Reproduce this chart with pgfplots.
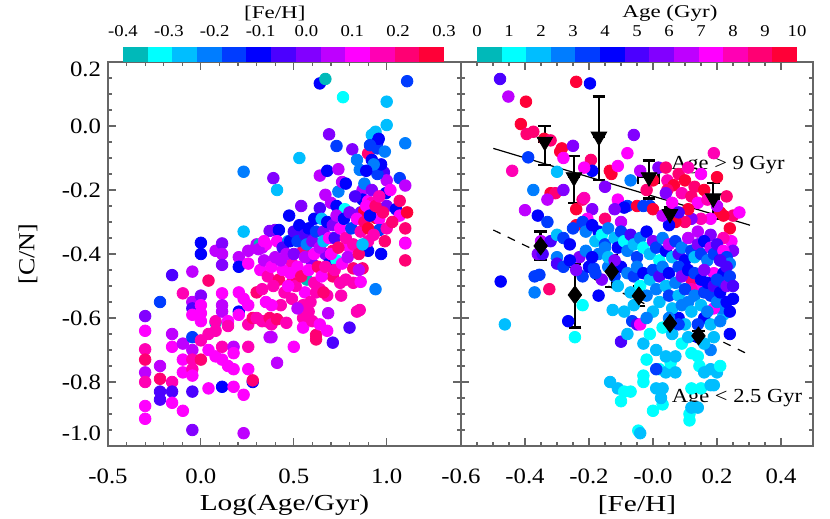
\documentclass[border=0pt]{standalone}
\usepackage{fontspec}
\setmainfont{Liberation Serif}[FakeStretch=1.13]
\newfontfamily\lblfont{Liberation Serif}[FakeStretch=1.28]
\usepackage{pgfplots}
\pgfplotsset{compat=1.18}
\definecolor{cb1}{RGB}{0,185,185}
\definecolor{cb2}{RGB}{0,255,255}
\definecolor{cb3}{RGB}{0,190,255}
\definecolor{cb4}{RGB}{0,125,255}
\definecolor{cb5}{RGB}{0,60,255}
\definecolor{cb6}{RGB}{0,0,255}
\definecolor{cb7}{RGB}{75,0,255}
\definecolor{cb8}{RGB}{130,0,255}
\definecolor{cb9}{RGB}{190,0,255}
\definecolor{cb10}{RGB}{255,0,255}
\definecolor{cb11}{RGB}{255,0,180}
\definecolor{cb12}{RGB}{255,0,115}
\definecolor{cb13}{RGB}{255,0,55}
\pgfplotsset{
  colormap={idl}{color=(cb1) color=(cb2) color=(cb3) color=(cb4) color=(cb5) color=(cb6) color=(cb7) color=(cb8) color=(cb9) color=(cb10) color=(cb11) color=(cb12) color=(cb13)},
  panel/.style={
    scale only axis, height=192bp,
    ymin=-1.0, ymax=0.2,
    ytick={-1.0,-0.8,-0.6,-0.4,-0.2,0.0,0.2}, minor y tick num=3,
    tick align=inside,
    major tick length=3.9bp, minor tick length=2.2bp,
    axis line style={black!60, line width=0.7bp},
    tick style={black!60, line width=0.6bp},
    tick label style={font=\fontsize{11}{12}\selectfont},
    /pgf/number format/assume math mode=true,
    xticklabel style={/pgf/number format/.cd, fixed, fixed zerofill, precision=1},
    yticklabel style={/pgf/number format/.cd, fixed, fixed zerofill, precision=1},
    xticklabel shift=8bp,
    xlabel style={at={(axis description cs:0.5,-0.1536)}, anchor=center, font=\lblfont\fontsize{11.5}{13}\selectfont},
    colormap name=idl, colormap access=piecewise constant,
    clip=false,
  },
  dots/.style={scatter, only marks, mark=*, mark size=2.9bp, scatter src=explicit,
    scatter/use mapped color={draw=mapped color, fill=mapped color}},
  cbar/.style={scale only axis, height=7.5bp, ymin=0, ymax=1, clip=false,
    axis line style={draw=none}, ytick=\empty, xticklabel pos=upper,
    tick style={draw=none}, xticklabel shift=1.5bp,
    /pgf/number format/assume math mode=true,
    xticklabel style={font=\fontsize{8.3}{9}\selectfont}},
}
\begin{document}
\begin{tikzpicture}
\useasboundingbox (0,0) rectangle (415bp,259.5bp);
% ---------------- left panel ----------------
\begin{axis}[panel, at={(54bp,36.5bp)}, anchor=south west, width=176.5bp,
  xmin=-0.5, xmax=1.4, xtick={-0.5,0,0.5,1.0}, minor x tick num=4,
  yticklabel={\ifdim\tick pt>0.15pt\smash{\lower7.4bp\hbox{0.2}}\else\ifdim\tick pt<-0.95pt\smash{\raise2.6bp\hbox{-1.0}}\else\pgfmathprintnumber[fixed,fixed zerofill,precision=1]{\tick}\fi\fi},
  xlabel={Log(Age/Gyr)}, ylabel={[C/N]},
  ylabel style={at={(axis description cs:-0.2266,0.5)}, anchor=center, font=\fontsize{11.5}{13}\selectfont},
  point meta min=-0.4, point meta max=0.3]
\addplot[dots] table[row sep=\\, header=false, x index=0, y index=1, meta index=2] {
-0.30 -0.594 0.00\\ -0.30 -0.640 0.11\\ -0.30 -0.698 0.17\\ -0.30 -0.730 0.22\\ -0.30 -0.770 0.06\\ -0.30 -0.800 0.17\\ -0.30 -0.875 0.11\\ -0.30 -0.915 0.11\\
-0.22 -0.55 -0.16\\ -0.22 -0.75 0.06\\ -0.22 -0.79 0.22\\ -0.22 -0.83 -0.05\\ -0.22 -0.855 -0.05\\
-0.155 -0.466 -0.05\\ -0.155 -0.65 0.06\\ -0.155 -0.69 0.11\\ -0.155 -0.80 0.17\\ -0.155 -0.83 -0.05\\ -0.155 -0.865 0.11\\
-0.097 -0.523 0.17\\ -0.097 -0.68 0.06\\ -0.097 -0.73 0.11\\ -0.097 -0.77 0.11\\ -0.097 -0.89 0.11\\
-0.046 -0.455 0.06\\ -0.046 -0.55 0.06\\ -0.046 -0.57 -0.05\\ -0.046 -0.59 0.11\\ -0.046 -0.66 -0.16\\ -0.046 -0.70 0.06\\ -0.046 -0.73 0.17\\ -0.046 -0.76 0.17\\ -0.046 -0.78 0.11\\ -0.046 -0.83 -0.05\\ -0.046 -0.95 0.00\\
0.0 -0.365 -0.10\\ 0.0 -0.40 -0.10\\ 0.0 -0.53 0.00\\ 0.0 -0.56 0.11\\ 0.0 -0.585 0.11\\ 0.0 -0.61 0.11\\ 0.0 -0.67 0.17\\ 0.0 -0.73 0.22\\
0.041 -0.483 0.22\\ 0.041 -0.65 0.17\\ 0.041 -0.70 0.11\\ 0.041 -0.82 0.11\\
0.079 -0.39 0.06\\ 0.079 -0.615 -0.37\\ 0.079 -0.61 0.17\\ 0.079 -0.64 0.17\\ 0.079 -0.72 0.11\\
0.114 -0.367 0.00\\ 0.114 -0.40 0.06\\ 0.114 -0.434 0.00\\ 0.114 -0.523 0.11\\ 0.114 -0.56 0.06\\ 0.114 -0.58 0.06\\ 0.114 -0.69 0.17\\ 0.114 -0.73 0.11\\ 0.114 -0.815 -0.10\\
0.146 -0.61 0.11\\ 0.146 -0.625 0.17\\ 0.146 -0.75 0.11\\
0.176 -0.69 0.06\\ 0.176 -0.71 0.11\\ 0.176 -0.76 0.11\\ 0.176 -0.815 0.11\\
0.204 -0.41 0.06\\ 0.204 -0.44 -0.10\\ 0.204 -0.52 0.11\\ 0.204 -0.58 -0.10\\ 0.204 -0.59 0.11\\
0.23 -0.143 -0.21\\ 0.23 -0.33 -0.27\\ 0.23 -0.54 0.11\\ 0.23 -0.84 0.11\\ 0.23 -0.96 0.06\\
0.255 -0.39 0.06\\ 0.255 -0.43 0.11\\ 0.255 -0.56 0.11\\ 0.255 -0.62 0.17\\ 0.255 -0.69 0.17\\ 0.255 -0.76 0.11\\
0.279 -0.80 -0.10\\ 0.279 -0.795 0.22\\ 0.279 -0.60 0.22\\
0.30 -0.37 0.06\\ 0.30 -0.52 0.22\\ 0.30 -0.60 0.17\\ 0.317 -0.37 -0.37\\ 0.33 -0.38 0.06\\ 0.33 -0.51 0.17\\ 0.33 -0.61 0.17\\
0.35 -0.37 0.11\\ 0.35 -0.61 0.17\\ 0.37 -0.328 0.00\\ 0.37 -0.60 0.22\\ 0.37 -0.66 0.06\\ 0.39 -0.163 0.00\\ 0.41 -0.20 -0.27\\
0.41 -0.74 0.06\\ 0.38 -0.62 0.17\\ 0.38 -0.66 0.06\\ 0.40 -0.325 0.00\\ 0.42 -0.325 -0.10\\ 0.41 -0.36 0.11\\ 0.41 -0.604 0.22\\
0.43 -0.56 0.17\\ 0.38 -0.56 0.11\\ 0.46 -0.615 0.17\\ 0.47 -0.36 -0.21\\ 0.475 -0.28 -0.10\\ 0.49 -0.49 0.22\\ 0.49 -0.43 0.17\\
0.49 -0.54 0.17\\ 0.50 -0.69 0.11\\ 0.53 -0.10 -0.27\\ 0.54 -0.25 0.00\\ 0.55 -0.39 0.22\\ 0.55 -0.60 0.17\\ 0.55 -0.63 0.11\\
0.55 -0.56 0.17\\ 0.56 -0.52 0.11\\ 0.57 -0.48 -0.37\\ 0.60 -0.43 0.00\\ 0.60 -0.61 0.17\\ 0.61 -0.49 0.17\\ 0.61 -0.29 -0.10\\
0.62 -0.52 0.17\\ 0.62 -0.653 0.22\\ 0.62 -0.667 0.22\\ 0.64 -0.155 0.06\\ 0.64 -0.257 -0.05\\ 0.64 -0.62 0.11\\ 0.64 -0.51 0.17\\
0.65 -0.29 -0.27\\ 0.64 0.133 -0.10\\ 0.67 0.147 -0.37\\ 0.765 0.09 -0.32\\ 0.68 -0.14 -0.10\\ 0.67 -0.215 0.06\\ 0.67 -0.40 0.00\\
0.68 -0.53 0.17\\ 0.68 -0.64 0.11\\ 0.685 -0.585 0.06\\ 0.69 -0.026 0.00\\ 0.69 -0.43 -0.10\\ 0.70 -0.24 0.06\\ 0.71 -0.39 0.22\\
0.71 -0.47 0.22\\ 0.71 -0.677 -0.05\\ 0.73 -0.0625 -0.16\\ 0.73 -0.25 -0.10\\ 0.73 -0.42 -0.32\\ 0.74 -0.135 0.06\\ 0.74 -0.205 -0.21\\
0.75 -0.49 0.17\\ 0.755 -0.53 0.17\\ 0.76 -0.175 0.06\\ 0.775 -0.26 -0.32\\ 0.78 -0.18 -0.10\\ 0.80 -0.37 0.11\\ 0.80 -0.38 0.11\\
0.80 -0.63 -0.05\\ 0.815 -0.073 0.00\\ 0.82 -0.445 0.22\\ 0.82 -0.49 0.17\\ 0.84 -0.106 -0.21\\ 0.84 -0.58 0.17\\ 0.855 -0.137 -0.21\\
0.855 -0.575 0.17\\ 0.86 -0.27 0.00\\ 0.86 -0.487 0.11\\ 0.87 -0.445 0.22\\ 0.87 -0.20 0.06\\ 0.87 -0.23 -0.10\\ 0.88 -0.18 -0.21\\
0.88 -0.265 0.27\\ 0.90 -0.086 0.22\\ 0.90 -0.235 0.11\\ 0.90 -0.39 -0.10\\ 0.90 -0.36 0.17\\ 0.92 -0.028 -0.27\\ 0.92 -0.106 -0.10\\
0.92 -0.24 0.17\\ 0.94 -0.018 -0.27\\ 0.94 -0.287 0.27\\ 0.94 -0.51 -0.21\\ 0.95 -0.05 -0.10\\ 0.95 -0.07 -0.16\\ 0.957 -0.04 -0.10\\
0.96 -0.29 0.11\\ 0.96 -0.325 -0.16\\ 0.985 -0.145 -0.05\\ 0.995 -0.21 -0.10\\ 1.0 0.076 -0.27\\ 1.0 0.003 -0.27\\ 1.0 -0.17 0.06\\
1.0 -0.25 0.00\\ 1.05 -0.26 -0.10\\ 1.07 -0.163 -0.16\\ 1.07 -0.234 0.22\\ 1.07 -0.28 0.11\\ 1.10 -0.054 -0.21\\ 1.10 -0.186 0.06\\
1.10 -0.32 0.22\\ 1.10 -0.365 0.17\\ 1.10 -0.367 0.11\\ 1.10 -0.42 0.22\\ 1.11 0.14 -0.16\\ 1.11 -0.27 0.27\\
0.32 -0.45 0.11\\ 0.34 -0.42 0.06\\ 0.36 -0.47 0.17\\ 0.38 -0.44 0.11\\ 0.40 -0.41 0.06\\ 0.42 -0.48 0.22\\ 0.44 -0.38 -0.05\\
0.44 -0.45 0.11\\ 0.45 -0.52 0.17\\ 0.46 -0.40 0.06\\ 0.48 -0.36 -0.10\\ 0.48 -0.46 0.11\\ 0.50 -0.33 -0.05\\ 0.50 -0.40 0.00\\
0.51 -0.50 0.17\\ 0.52 -0.36 -0.16\\ 0.52 -0.44 0.11\\ 0.53 -0.31 -0.10\\ 0.54 -0.47 0.22\\ 0.56 -0.34 -0.05\\ 0.56 -0.41 0.06\\
0.57 -0.37 -0.21\\ 0.58 -0.32 -0.10\\ 0.58 -0.45 0.11\\ 0.59 -0.55 0.17\\ 0.60 -0.36 0.00\\ 0.61 -0.40 0.11\\ 0.62 -0.33 -0.16\\
0.63 -0.44 0.22\\ 0.64 -0.38 0.06\\ 0.65 -0.47 0.11\\ 0.66 -0.33 0.00\\ 0.66 -0.36 -0.27\\ 0.67 -0.44 0.17\\ 0.68 -0.30 -0.10\\
0.69 -0.35 0.11\\ 0.70 -0.40 0.11\\ 0.71 -0.31 0.00\\ 0.72 -0.45 0.17\\ 0.72 -0.35 -0.05\\ 0.73 -0.28 0.06\\ 0.74 -0.38 0.22\\
0.75 -0.32 0.11\\ 0.76 -0.43 0.11\\ 0.77 -0.29 -0.10\\ 0.78 -0.35 0.17\\ 0.79 -0.41 0.06\\ 0.80 -0.27 0.00\\ 0.81 -0.32 -0.16\\
0.82 -0.37 0.17\\ 0.83 -0.22 -0.05\\ 0.84 -0.29 0.11\\ 0.85 -0.40 0.22\\ 0.86 -0.33 0.17\\ 0.87 -0.37 -0.27\\ 0.88 -0.30 0.22\\
0.89 -0.25 0.11\\ 0.90 -0.32 0.27\\ 0.91 -0.28 -0.10\\ 0.92 -0.20 0.00\\ 0.93 -0.34 0.17\\ 0.94 -0.25 0.22\\ 0.95 -0.15 -0.16\\
0.96 -0.22 0.17\\ 0.97 -0.12 -0.10\\ 0.98 -0.27 0.22\\ 0.99 -0.08 -0.21\\ 1.00 -0.32 0.17\\ 1.02 -0.20 0.11\\ 1.03 -0.30 0.22\\
0.93 -0.12 -0.21\\ 0.91 -0.06 -0.16\\ 0.89 -0.14 -0.10\\ 0.97 -0.40 -0.10\\ 0.99 -0.36 0.22\\ 0.85 -0.45 0.06\\ 0.78 -0.48 0.17\\
0.66 -0.52 0.22\\ 0.58 -0.58 0.17\\ 0.52 -0.57 0.06\\ 0.47 -0.50 0.11\\ 0.43 -0.42 0.06\\ 0.39 -0.50 0.17\\ 0.35 -0.55 0.11\\
0.31 -0.385 0.06\\ 0.34 -0.36 0.11\\
};
\end{axis}
% ---------------- right panel ----------------
\begin{axis}[panel, at={(230.5bp,36.5bp)}, anchor=south west, width=176bp,
  xmin=-0.6, xmax=0.5, xtick={-0.6,-0.4,-0.2,0,0.2,0.4}, minor x tick num=3,
  xticklabels={-0.6,-0.4,-0.2,-0.0,0.2,0.4},
  yticklabel=\empty,
  xlabel={[Fe/H]},
  point meta min=0, point meta max=10]
\addplot[dots] table[row sep=\\, header=false, x index=0, y index=1, meta index=2] {
-0.478 0.147 5.0\\ -0.452 0.092 6.5\\ -0.397 0.076 9.6\\ -0.413 0.006 9.6\\ -0.395 -0.025 8.8\\ -0.374 -0.018 8.8\\ -0.34 -0.04 9.6\\
-0.32 -0.045 8.8\\ -0.39 -0.098 3.5\\ -0.44 -0.14 8.1\\ -0.285 -0.07 9.6\\ -0.29 -0.08 9.6\\ -0.25 -0.062 5.8\\ -0.28 -0.10 7.3\\
-0.24 0.138 9.6\\ -0.197 0.133 4.2\\ -0.194 -0.106 8.8\\ -0.19 -0.14 4.2\\ -0.215 -0.13 7.3\\ -0.30 -0.143 1.9\\ -0.374 -0.20 2.7\\
-0.32 -0.21 9.6\\ -0.305 -0.21 8.8\\ -0.28 -0.20 5.8\\ -0.33 -0.23 6.5\\ -0.40 -0.263 6.5\\ -0.36 -0.28 4.2\\ -0.24 -0.26 9.6\\
-0.22 -0.23 8.8\\ -0.215 -0.225 8.1\\ -0.19 -0.26 5.8\\ -0.205 -0.29 7.3\\ -0.24 -0.31 9.6\\ -0.15 -0.19 5.8\\ -0.13 -0.15 9.6\\
-0.135 -0.14 9.6\\ -0.11 -0.125 7.3\\ -0.08 -0.085 7.3\\ -0.06 -0.028 5.8\\ -0.07 -0.17 2.7\\ -0.11 -0.23 7.3\\ -0.08 -0.25 3.5\\
-0.09 -0.255 4.2\\ -0.12 -0.26 5.8\\ -0.05 -0.25 9.6\\ -0.03 -0.25 3.5\\ -0.01 -0.25 3.5\\ 0.017 -0.13 5.8\\ 0.0 -0.17 9.6\\
0.0 -0.26 9.6\\ 0.04 -0.13 8.8\\ 0.045 -0.17 8.1\\ 0.065 -0.185 9.6\\ 0.045 -0.20 8.8\\ 0.04 -0.21 5.8\\ 0.09 -0.21 8.1\\
0.12 -0.22 8.8\\ 0.14 -0.24 7.3\\ 0.19 -0.085 8.1\\ 0.20 -0.16 9.6\\ 0.21 -0.27 9.6\\ 0.24 -0.32 9.6\\ 0.25 -0.28 8.8\\
0.27 -0.27 7.3\\ 0.22 -0.28 9.6\\ 0.18 -0.29 7.3\\ 0.15 -0.29 8.1\\ 0.12 -0.29 5.8\\ 0.10 -0.30 8.8\\ 0.07 -0.30 9.6\\
0.05 -0.31 4.2\\ 0.245 -0.36 7.3\\ 0.25 -0.39 5.8\\
0.08 -0.15 8.8\\ 0.10 -0.17 9.6\\ 0.11 -0.13 8.1\\ 0.13 -0.19 8.8\\ 0.15 -0.15 7.3\\ 0.16 -0.20 9.6\\ 0.17 -0.23 8.1\\
0.06 -0.24 7.3\\ 0.03 -0.28 6.5\\ -0.02 -0.20 8.8\\ -0.04 -0.14 6.5\\ 0.23 -0.22 8.8\\ 0.20 -0.25 6.5\\ 0.11 -0.26 9.6\\
0.08 -0.27 5.0\\ -0.15 -0.29 8.8\\ -0.10 -0.30 6.5\\ -0.17 -0.33 4.2\\ 0.14 -0.33 6.5\\ 0.18 -0.34 5.8\\ 0.22 -0.35 8.1\\
-0.35 -0.36 6.5\\ -0.32 -0.36 5.0\\ -0.30 -0.34 1.9\\ -0.28 -0.35 3.5\\ -0.26 -0.37 4.2\\ -0.25 -0.32 3.5\\ -0.22 -0.30 3.5\\
-0.21 -0.33 2.7\\ -0.19 -0.31 4.2\\ -0.18 -0.36 1.9\\ -0.16 -0.34 1.2\\ -0.15 -0.37 3.5\\ -0.14 -0.32 2.7\\ -0.12 -0.35 1.9\\
-0.11 -0.38 4.2\\ -0.10 -0.33 3.5\\ -0.09 -0.36 1.2\\ -0.08 -0.39 2.7\\ -0.07 -0.34 5.0\\ -0.06 -0.37 1.9\\ -0.05 -0.41 3.5\\
-0.04 -0.35 2.7\\ -0.03 -0.38 1.2\\ -0.02 -0.33 4.2\\ -0.01 -0.40 1.9\\ 0.0 -0.36 5.8\\ 0.01 -0.38 3.5\\ 0.02 -0.42 1.2\\
0.03 -0.35 2.7\\ 0.04 -0.39 4.2\\ 0.05 -0.37 6.5\\ 0.06 -0.41 1.9\\ 0.07 -0.36 3.5\\ 0.08 -0.40 5.0\\ 0.09 -0.38 2.7\\
0.10 -0.42 4.2\\ 0.11 -0.35 6.5\\ 0.12 -0.39 3.5\\ 0.13 -0.41 1.9\\ 0.14 -0.37 5.8\\ 0.15 -0.40 3.5\\ 0.16 -0.36 4.2\\
0.17 -0.42 2.7\\ 0.18 -0.38 6.5\\ 0.19 -0.40 3.5\\ 0.20 -0.37 5.0\\ 0.21 -0.42 4.2\\ 0.22 -0.39 7.3\\ 0.23 -0.41 3.5\\ 0.24 -0.43 2.7\\
-0.476 -0.486 4.2\\ -0.463 -0.62 1.9\\ -0.37 -0.47 3.5\\ -0.355 -0.465 3.5\\ -0.37 -0.52 2.7\\ -0.324 -0.51 8.8\\ -0.30 -0.41 2.7\\
-0.36 -0.40 5.8\\ -0.345 -0.40 5.0\\ -0.265 -0.61 4.2\\ -0.244 -0.66 1.2\\ -0.22 -0.56 1.2\\ -0.23 -0.41 5.8\\ -0.22 -0.47 3.5\\
-0.20 -0.44 4.2\\ -0.185 -0.445 3.5\\ -0.17 -0.53 4.2\\ -0.16 -0.48 5.8\\ -0.17 -0.40 2.7\\ -0.15 -0.38 2.7\\ -0.126 -0.575 1.9\\
-0.09 -0.58 1.9\\ -0.10 -0.674 5.0\\ -0.08 -0.65 1.9\\ -0.065 -0.61 3.5\\ -0.05 -0.62 5.0\\ -0.04 -0.62 7.3\\ -0.03 -0.68 1.9\\
-0.134 -0.80 1.9\\ -0.11 -0.82 1.9\\ -0.10 -0.86 1.2\\ -0.09 -0.83 1.2\\ -0.07 -0.83 1.2\\ -0.046 -0.952 1.2\\ -0.04 -0.96 1.9\\
-0.03 -0.78 1.2\\ -0.03 -0.80 1.2\\ -0.02 -0.73 1.2\\ 0.0 -0.89 1.2\\ 0.01 -0.82 1.9\\ 0.03 -0.82 1.9\\ 0.03 -0.87 1.2\\
0.025 -0.85 1.9\\ 0.02 -0.76 1.2\\ 0.04 -0.77 1.9\\ 0.055 -0.74 1.2\\ 0.07 -0.77 1.9\\ 0.01 -0.76 3.5\\ 0.04 -0.72 1.9\\
0.07 -0.72 1.9\\ 0.08 -0.60 4.2\\ 0.114 -0.90 1.2\\ 0.114 -0.92 1.2\\ 0.12 -0.88 1.9\\ 0.14 -0.88 1.9\\ 0.12 -0.82 1.2\\
0.15 -0.82 1.2\\ 0.18 -0.81 1.9\\ 0.19 -0.81 1.9\\ 0.14 -0.72 1.2\\ 0.145 -0.75 1.2\\ 0.16 -0.77 1.9\\ 0.18 -0.76 1.9\\
0.20 -0.77 1.9\\ 0.21 -0.75 1.2\\ 0.18 -0.70 2.7\\ 0.19 -0.66 1.9\\ 0.24 -0.65 4.2\\ 0.22 -0.59 1.9\\ 0.215 -0.57 2.7\\
0.25 -0.54 4.2\\ 0.19 -0.57 7.3\\ 0.16 -0.60 4.2\\ 0.14 -0.66 4.2\\ 0.14 -0.51 7.3\\ 0.12 -0.48 8.8\\ 0.12 -0.51 8.1\\
0.19 -0.46 7.3\\ 0.22 -0.46 4.2\\ 0.21 -0.42 5.0\\ 0.23 -0.44 5.0\\
-0.14 -0.44 2.7\\ -0.12 -0.47 3.5\\ -0.11 -0.50 1.9\\ -0.10 -0.44 4.2\\ -0.08 -0.46 2.7\\ -0.07 -0.52 1.9\\ -0.06 -0.47 3.5\\
-0.05 -0.44 2.7\\ -0.04 -0.50 1.2\\ -0.03 -0.46 4.2\\ -0.02 -0.53 2.7\\ -0.01 -0.48 1.9\\ 0.00 -0.45 3.5\\ 0.01 -0.51 2.7\\
0.02 -0.55 1.9\\ 0.02 -0.47 5.0\\ 0.03 -0.44 2.7\\ 0.04 -0.50 1.9\\ 0.05 -0.53 3.5\\ 0.05 -0.46 4.2\\ 0.06 -0.57 1.9\\
0.07 -0.49 2.7\\ 0.08 -0.44 3.5\\ 0.08 -0.53 1.9\\ 0.09 -0.56 2.7\\ 0.09 -0.47 5.8\\ 0.10 -0.51 3.5\\ 0.10 -0.62 1.9\\
0.11 -0.45 4.2\\ 0.11 -0.55 2.7\\ 0.12 -0.58 1.9\\ 0.13 -0.46 3.5\\ 0.13 -0.53 2.7\\ 0.14 -0.62 3.5\\ 0.15 -0.48 4.2\\
0.15 -0.56 1.9\\ 0.16 -0.52 3.5\\ 0.16 -0.45 5.8\\ 0.17 -0.58 2.7\\ 0.17 -0.49 4.2\\ 0.18 -0.53 3.5\\ 0.18 -0.62 1.9\\
0.19 -0.50 5.0\\ 0.20 -0.55 2.7\\ 0.20 -0.48 3.5\\ 0.21 -0.52 4.2\\ 0.21 -0.61 2.7\\ 0.22 -0.49 3.5\\ 0.23 -0.55 4.2\\
0.23 -0.50 5.8\\ 0.24 -0.47 3.5\\ 0.24 -0.58 4.2\\ 0.25 -0.50 5.0\\ 0.05 -0.60 2.7\\ 0.03 -0.63 1.2\\ 0.00 -0.58 1.9\\
-0.02 -0.60 2.7\\ -0.06 -0.56 1.9\\ 0.06 -0.65 1.9\\ 0.09 -0.68 1.2\\ 0.11 -0.66 1.9\\ 0.12 -0.71 1.2\\ 0.16 -0.68 1.9\\
0.08 -0.62 3.5\\ -0.01 -0.65 1.2\\ 0.01 -0.70 1.9\\
-0.33 -0.30 3.5\\ -0.30 -0.43 5.0\\ -0.28 -0.44 3.5\\ -0.26 -0.42 4.2\\ -0.24 -0.45 5.8\\ -0.21 -0.39 2.7\\ -0.19 -0.41 4.2\\
-0.18 -0.46 3.5\\ -0.14 -0.41 1.9\\ -0.12 -0.42 5.8\\
};
\addplot[black, line width=0.6bp] coordinates {(-0.499,-0.07) (0.303,-0.31)};
\addplot[black, line width=0.6bp, dash pattern=on 4bp off 4bp] coordinates {(-0.499,-0.325) (0.303,-0.716)};
\addplot[only marks, mark=triangle*, mark size=4.5bp, mark options={rotate=180, fill=black, draw=black},
  error bars/.cd, y dir=both, y explicit, x dir=both, x explicit,
  error bar style={line width=1.2bp, black},
  error mark options={rotate=90, line width=1.2bp, mark size=3.2bp, black}]
  coordinates {
  (-0.338,-0.049) += (0,0.049) -= (0,0.073)
  (-0.247,-0.16) += (0,0.066) -= (0,0.08)
  (-0.169,-0.033) += (0,0.125) -= (0,0.136)
  (-0.0125,-0.16) += (0.03,0.052) -= (0.034,0.066)
  (0.053,-0.275) += (0,0.02) -= (0,0.03)
  (0.188,-0.226) += (0,0.047) -= (0,0.064)
  };
\addplot[only marks, mark=diamond*, mark size=4.5bp, mark options={fill=black, draw=black},
  error bars/.cd, y dir=both, y explicit,
  error bar style={line width=1.2bp, black},
  error mark options={rotate=90, line width=1.2bp, mark size=3.2bp, black}]
  coordinates {
  (-0.351,-0.375) += (0,0.045) -= (0,0.044)
  (-0.244,-0.528) += (0,0.097) -= (0,0.102)
  (-0.129,-0.455) += (0,0.052) -= (0,0.049)
  (-0.044,-0.531) += (0,0.029) -= (0,0.031)
  (0.053,-0.617) += (0,0.02) -= (0,0.02)
  (0.142,-0.656) += (0,0.015) -= (0,0.015)
  };
\node[font=\fontsize{10}{12}\selectfont] at (axis cs:0.234,-0.122) {Age > 9 Gyr};
\node[font=\fontsize{10}{12}\selectfont] at (axis cs:0.2625,-0.85) {Age < 2.5 Gyr};
\end{axis}
% ---------------- colour bars ----------------
\begin{axis}[cbar, at={(61.5bp,228.5bp)}, anchor=south west, width=160.5bp,
  xmin=-0.4, xmax=0.3, xtick={-0.4,-0.3,-0.2,-0.1,0,0.1,0.2,0.3},
  xticklabel style={/pgf/number format/.cd, fixed, fixed zerofill, precision=1}]
\addplot[fill=cb1, draw=none] coordinates {(-0.4,1) (-0.34615,1)} \closedcycle;
\addplot[fill=cb2, draw=none] coordinates {(-0.34615,1) (-0.29231,1)} \closedcycle;
\addplot[fill=cb3, draw=none] coordinates {(-0.29231,1) (-0.23846,1)} \closedcycle;
\addplot[fill=cb4, draw=none] coordinates {(-0.23846,1) (-0.18462,1)} \closedcycle;
\addplot[fill=cb5, draw=none] coordinates {(-0.18462,1) (-0.13077,1)} \closedcycle;
\addplot[fill=cb6, draw=none] coordinates {(-0.13077,1) (-0.07692,1)} \closedcycle;
\addplot[fill=cb7, draw=none] coordinates {(-0.07692,1) (-0.02308,1)} \closedcycle;
\addplot[fill=cb8, draw=none] coordinates {(-0.02308,1) (0.03077,1)} \closedcycle;
\addplot[fill=cb9, draw=none] coordinates {(0.03077,1) (0.08462,1)} \closedcycle;
\addplot[fill=cb10, draw=none] coordinates {(0.08462,1) (0.13846,1)} \closedcycle;
\addplot[fill=cb11, draw=none] coordinates {(0.13846,1) (0.19231,1)} \closedcycle;
\addplot[fill=cb12, draw=none] coordinates {(0.19231,1) (0.24615,1)} \closedcycle;
\addplot[fill=cb13, draw=none] coordinates {(0.24615,1) (0.3,1)} \closedcycle;
\node[font=\lblfont\fontsize{9}{10}\selectfont, anchor=center, yshift=17bp] at (axis description cs:0.473,1) {[Fe/H]};
\end{axis}
\begin{axis}[cbar, at={(238.5bp,228.5bp)}, anchor=south west, width=160bp,
  xmin=0, xmax=10, xtick={0,1,2,3,4,5,6,7,8,9,10}]
\addplot[fill=cb1, draw=none] coordinates {(0,1) (0.76923,1)} \closedcycle;
\addplot[fill=cb2, draw=none] coordinates {(0.76923,1) (1.53846,1)} \closedcycle;
\addplot[fill=cb3, draw=none] coordinates {(1.53846,1) (2.30769,1)} \closedcycle;
\addplot[fill=cb4, draw=none] coordinates {(2.30769,1) (3.07692,1)} \closedcycle;
\addplot[fill=cb5, draw=none] coordinates {(3.07692,1) (3.84615,1)} \closedcycle;
\addplot[fill=cb6, draw=none] coordinates {(3.84615,1) (4.61538,1)} \closedcycle;
\addplot[fill=cb7, draw=none] coordinates {(4.61538,1) (5.38462,1)} \closedcycle;
\addplot[fill=cb8, draw=none] coordinates {(5.38462,1) (6.15385,1)} \closedcycle;
\addplot[fill=cb9, draw=none] coordinates {(6.15385,1) (6.92308,1)} \closedcycle;
\addplot[fill=cb10, draw=none] coordinates {(6.92308,1) (7.69231,1)} \closedcycle;
\addplot[fill=cb11, draw=none] coordinates {(7.69231,1) (8.46154,1)} \closedcycle;
\addplot[fill=cb12, draw=none] coordinates {(8.46154,1) (9.23077,1)} \closedcycle;
\addplot[fill=cb13, draw=none] coordinates {(9.23077,1) (10,1)} \closedcycle;
\node[font=\lblfont\fontsize{9}{10}\selectfont, anchor=center, yshift=17bp] at (axis description cs:0.603,1) {Age (Gyr)};
\end{axis}
\end{tikzpicture}
\end{document}
